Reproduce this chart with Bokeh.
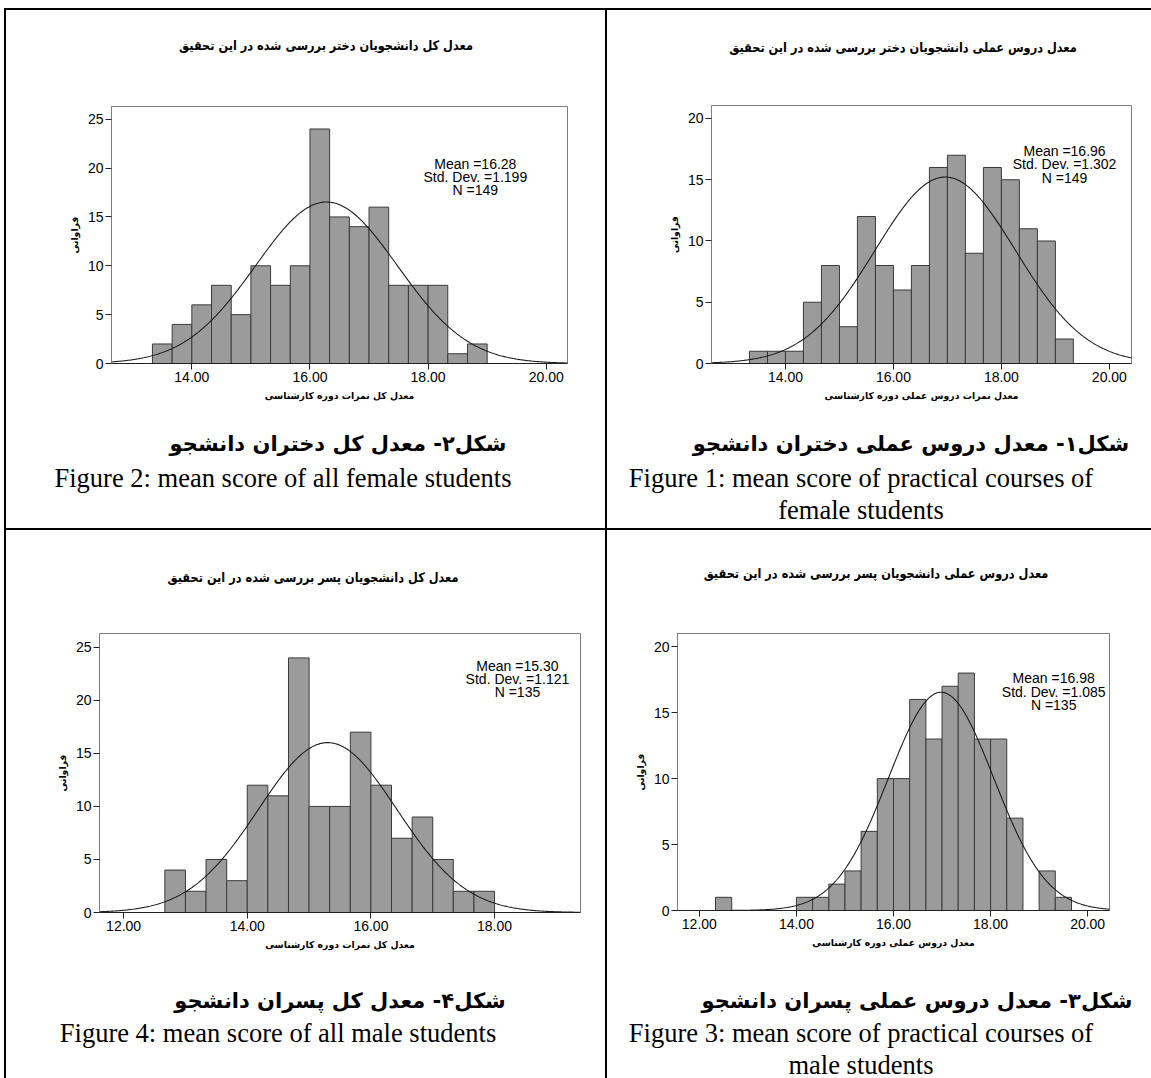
import numpy as np
from bokeh.plotting import figure
from bokeh.models import Range1d, FixedTicker, PrintfTickFormatter, Div, Spacer
from bokeh.layouts import row, column
from bokeh.embed import file_html
from bokeh.resources import INLINE
from bokeh.core.properties import value

# ---------------------------------------------------------------- data
# bin edges (width 1/3 of a grade point) and frequencies per histogram
fem_all_edges = [13.333, 13.667, 14.0, 14.333, 14.667, 15.0, 15.333, 15.667, 16.0,
                 16.333, 16.667, 17.0, 17.333, 17.667, 18.0, 18.333, 18.667, 19.0]
fem_all_counts = [2, 4, 6, 8, 5, 10, 8, 10, 24, 15, 14, 16, 8, 8, 8, 1, 2]
fem_all_mean, fem_all_sd, fem_all_n = 16.28, 1.199, 149

fem_prac_edges = [13.333, 13.667, 14.0, 14.333, 14.667, 15.0, 15.333, 15.667, 16.0,
                  16.333, 16.667, 17.0, 17.333, 17.667, 18.0, 18.333, 18.667, 19.0, 19.333]
fem_prac_counts = [1, 1, 1, 5, 8, 3, 12, 8, 6, 8, 16, 17, 9, 16, 15, 11, 10, 2]
fem_prac_mean, fem_prac_sd, fem_prac_n = 16.96, 1.302, 149

male_all_edges = [12.667, 13.0, 13.333, 13.667, 14.0, 14.333, 14.667, 15.0, 15.333,
                  15.667, 16.0, 16.333, 16.667, 17.0, 17.333, 17.667, 18.0]
male_all_counts = [4, 2, 5, 3, 12, 11, 24, 10, 10, 17, 12, 7, 9, 5, 2, 2]
male_all_mean, male_all_sd, male_all_n = 15.30, 1.121, 135

male_prac_edges = [12.333, 12.667, 13.0, 13.333, 13.667, 14.0, 14.333, 14.667, 15.0,
                   15.333, 15.667, 16.0, 16.333, 16.667, 17.0, 17.333, 17.667, 18.0,
                   18.333, 18.667, 19.0, 19.333, 19.667]
male_prac_counts = [1, 0, 0, 0, 0, 1, 1, 2, 3, 6, 10, 10, 16, 13, 17, 18, 13, 13, 7, 0, 3, 1]
male_prac_mean, male_prac_sd, male_prac_n = 16.98, 1.085, 135

# tick values
x_ticks_14_20 = [14, 16, 18, 20]
x_ticks_12_18 = [12, 14, 16, 18]
x_ticks_12_20 = [12, 14, 16, 18, 20]
y_ticks_25 = [0, 5, 10, 15, 20, 25]
y_ticks_20 = [0, 5, 10, 15, 20]

# texts
y_label = "فراوانی"
title_fem_all = "معدل کل دانشجویان دختر بررسی شده در این تحقیق"
title_fem_prac = "معدل دروس عملی دانشجویان دختر بررسی شده در این تحقیق"
title_male_all = "معدل کل دانشجویان پسر بررسی شده در این تحقیق"
title_male_prac = "معدل دروس عملی دانشجویان پسر بررسی شده در این تحقیق"
xlab_all = "معدل کل نمرات دوره کارشناسی"
xlab_fem_prac = "معدل نمرات دروس عملی دوره کارشناسی"
xlab_male_prac = "معدل دروس عملی دوره کارشناسی"

cap_fa = ["شکل۲- معدل کل دختران دانشجو",
          "شکل۱- معدل دروس عملی دختران دانشجو",
          "شکل۴- معدل کل پسران دانشجو",
          "شکل۳- معدل دروس عملی پسران دانشجو"]
cap_en = ["Figure 2: mean score of all female students",
          "Figure 1: mean score of practical courses of<br>female students",
          "Figure 4: mean score of all male students",
          "Figure 3: mean score of practical courses of<br>male students"]

FA_FONT = "DejaVu Sans"
NUM_FONT = "Liberation Sans"
EN_FONT = "Liberation Serif"


def histogram(edges, counts, mean, sd, n, xlabel, xticks, yticks,
              xr, yr, w, h, borders, stats_at):
    p = figure(width=w, height=h, x_range=Range1d(*xr), y_range=Range1d(*yr),
               output_backend="svg", toolbar_location=None)
    p.title.visible = False
    (p.min_border_left, p.min_border_right,
     p.min_border_top, p.min_border_bottom) = borders
    p.background_fill_color = "white"
    p.border_fill_color = "white"
    p.outline_line_color = "#7d7d7d"
    p.outline_line_width = 1
    p.xgrid.visible = False
    p.ygrid.visible = False

    p.xaxis.ticker = FixedTicker(ticks=xticks)
    p.xaxis.formatter = PrintfTickFormatter(format="%.2f")
    p.yaxis.ticker = FixedTicker(ticks=yticks)
    p.xaxis.axis_label = xlabel
    p.yaxis.axis_label = y_label
    for ax in (p.xaxis[0], p.yaxis[0]):
        ax.major_tick_out = 6
        ax.major_tick_in = 0
        ax.minor_tick_out = 0
        ax.minor_tick_in = 0
        ax.major_tick_line_color = "#222222"
        ax.major_label_text_font = NUM_FONT
        ax.major_label_text_font_size = "14px"
        ax.major_label_text_color = "black"
        ax.major_label_standoff = 2
        ax.axis_label_text_font = FA_FONT
        ax.axis_label_text_font_size = "9.3px"
        ax.axis_label_text_font_style = "bold"
        ax.axis_label_text_color = "black"
        ax.axis_label_standoff = 5
    p.xaxis.axis_line_color = "#222222"
    p.yaxis.axis_line_color = "#7d7d7d"

    lo = [a for a, c in zip(edges[:-1], counts) if c > 0]
    hi = [b for b, c in zip(edges[1:], counts) if c > 0]
    top = [c for c in counts if c > 0]
    p.quad(left=lo, right=hi, bottom=0, top=top,
           fill_color="#9b9b9b", line_color="#3a3a3a", line_width=1)

    # fitted normal curve scaled to the frequency axis
    bw = (edges[-1] - edges[0]) / len(counts)
    xs = np.linspace(xr[0], xr[1], 500)
    ys = n * bw * np.exp(-0.5 * ((xs - mean) / sd) ** 2) / (sd * np.sqrt(2 * np.pi))
    p.line(xs, ys, line_color="#1c1c1c", line_width=1.1)

    p.text(x=[stats_at[0]], y=[stats_at[1]],
           text=[f"Mean ={mean:.2f}\nStd. Dev. ={sd:.3f}\nN ={n}"],
           text_align="center", text_baseline="middle",
           text_font=value(NUM_FONT), text_font_size=value("14px"),
           text_line_height=0.83, text_color="black")
    return p


def text_block(w, h, items):
    """Div holding absolutely placed, horizontally centred text lines."""
    parts = [f'<div style="position:relative;width:{w}px;height:{h}px;">']
    for txt, cx, cy, font, size, bold, rtl, lh, sx in items:
        parts.append(
            f'<div style="position:absolute;left:{cx}px;top:{cy - lh / 2}px;'
            f'transform:translateX(-50%) scaleX({sx});white-space:nowrap;'
            f'text-align:center;direction:{"rtl" if rtl else "ltr"};'
            f'font-family:\'{font}\';font-weight:{"bold" if bold else "normal"};'
            f'font-size:{size}px;line-height:{lh}px;color:#000;">{txt}</div>')
    parts.append('</div>')
    return Div(text="".join(parts), width=w, height=h, margin=0)


def chart_title(w, h, txt, cx, cy):
    # condensed bold heading
    return text_block(w, h, [(txt, cx, cy, FA_FONT, 13.2, True, True, 18, 0.86)])


def captions(w, h, fa_txt, fa_x, fa_y, en_txt, en_x, en_y):
    return text_block(w, h, [
        (fa_txt, fa_x, fa_y, FA_FONT, 21, True, True, 30, 1),
        (en_txt, en_x, en_y, EN_FONT, 26.5, False, False, 32, 1),
    ])


def vline(h):
    return Div(text="", width=2, height=h, margin=0,
               styles={"background-color": "#000000"})


def hline(w):
    return Div(text="", width=w, height=2, margin=0,
               styles={"background-color": "#000000"})


# ---------------------------------------------------------------- panels
LW, RW = 599, 544          # cell widths
TOP_H, BOT_H = 518, 548    # cell heights
HEAD_H, CAP_H = 70, 113    # title strip and caption strip heights
FIG_TOP_H = TOP_H - HEAD_H - CAP_H
FIG_BOT_H = BOT_H - HEAD_H - CAP_H

p_fem_all = histogram(fem_all_edges, fem_all_counts, fem_all_mean, fem_all_sd, fem_all_n,
                      xlab_all, x_ticks_14_20, y_ticks_25,
                      (12.64, 20.36), (0, 26.3), LW, FIG_TOP_H,
                      (105, 38, 26, 52), (18.80, 19.1))
p_fem_prac = histogram(fem_prac_edges, fem_prac_counts, fem_prac_mean, fem_prac_sd, fem_prac_n,
                       xlab_fem_prac, x_ticks_14_20, y_ticks_20,
                       (12.63, 20.41), (0, 21.06), RW, FIG_TOP_H,
                       (104, 20, 25, 52), (19.17, 16.25))
p_male_all = histogram(male_all_edges, male_all_counts, male_all_mean, male_all_sd, male_all_n,
                       xlab_all, x_ticks_12_18, y_ticks_25,
                       (11.61, 19.39), (0, 26.3), LW, FIG_BOT_H,
                       (93, 25, 33, 53), (18.37, 22.0))
p_male_prac = histogram(male_prac_edges, male_prac_counts, male_prac_mean, male_prac_sd, male_prac_n,
                        xlab_male_prac, x_ticks_12_20, y_ticks_20,
                        (11.55, 20.45), (0, 21.0), RW, FIG_BOT_H,
                        (70, 42, 33, 55), (19.30, 16.6))

cell_fem_all = column(
    chart_title(LW, HEAD_H, title_fem_all, 320, 36),
    p_fem_all,
    captions(LW, CAP_H, cap_fa[0], 332, 29, cap_en[0], 277, 63))
cell_fem_prac = column(
    chart_title(RW, HEAD_H, title_fem_prac, 296, 38),
    p_fem_prac,
    captions(RW, CAP_H, cap_fa[1], 304, 29, cap_en[1], 254, 63))
cell_male_all = column(
    chart_title(LW, HEAD_H, title_male_all, 307, 48),
    p_male_all,
    captions(LW, CAP_H, cap_fa[2], 334, 36, cap_en[2], 272, 68))
cell_male_prac = column(
    chart_title(RW, HEAD_H, title_male_prac, 269, 44),
    p_male_prac,
    captions(RW, CAP_H, cap_fa[3], 310, 36, cap_en[3], 254, 68))

page = column(
    Spacer(width=1151, height=8),
    row(Spacer(width=4, height=2), hline(1147)),
    row(Spacer(width=4, height=TOP_H), vline(TOP_H), cell_fem_all, vline(TOP_H), cell_fem_prac),
    row(Spacer(width=4, height=2), hline(1147)),
    row(Spacer(width=4, height=BOT_H), vline(BOT_H), cell_male_all, vline(BOT_H), cell_male_prac),
)

open("out.html", "w").write(file_html(page, INLINE))
